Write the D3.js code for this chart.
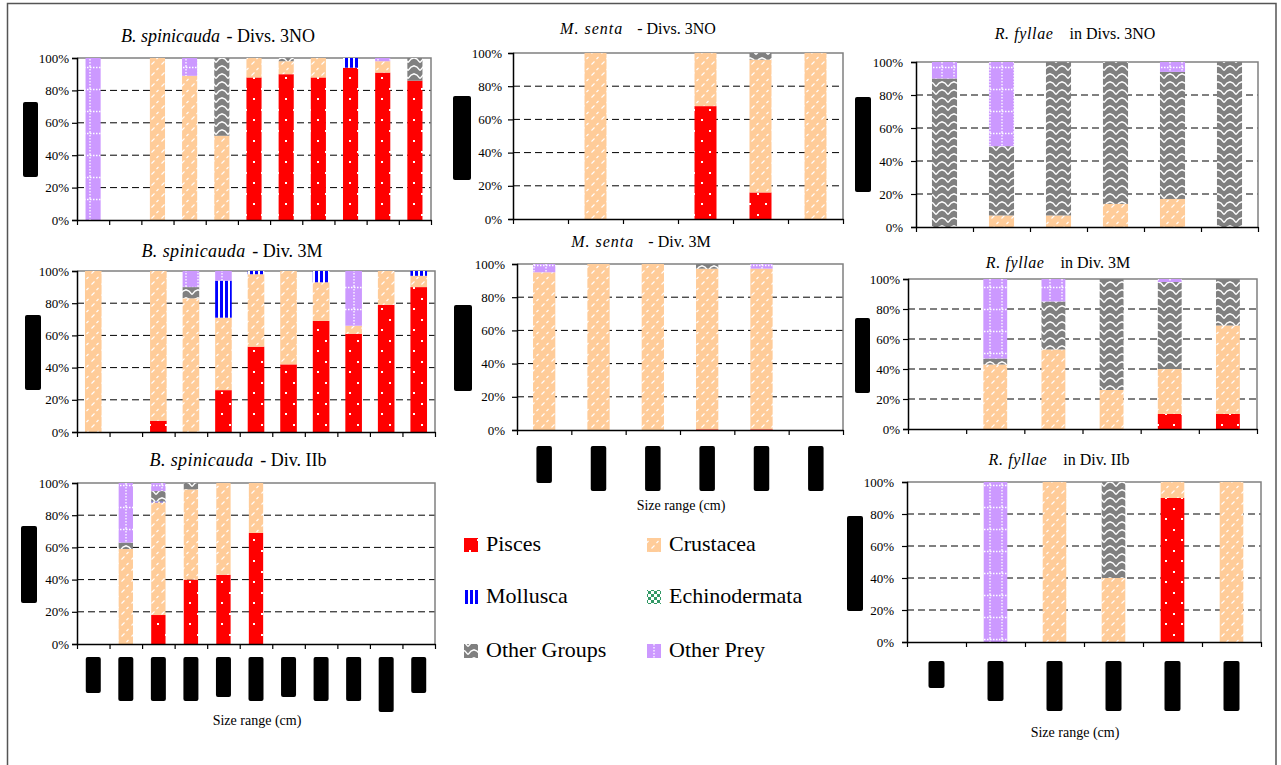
<!DOCTYPE html>
<html><head><meta charset="utf-8">
<script src="https://cdn.jsdelivr.net/npm/d3@7"></script>
<style>body{margin:0;background:#fff}svg{display:block}svg text{font-family:"Liberation Serif","Times New Roman",Tinos,Times,serif}</style>
</head><body><svg id="c" width="1281" height="765"></svg>
<script>
// ---------- DATA ----------
const series = ["Pisces","Crustacea","Mollusca","Echinodermata","Other Groups","Other Prey"];
const yTicks = [0,20,40,60,80,100];
const classes11 = d3.range(1,12).map(i=>"class "+i); // size-range labels are redacted in the source
const classes6 = d3.range(1,7).map(i=>"class "+i);
// each row: [Pisces, Crustacea, Mollusca, Echinodermata, Other Groups, Other Prey] (%)
const bsp3NO = [[0,0,0,0,0,100],[0,0,0,0,0,0],[0,100,0,0,0,0],[0,89,0,0,0,11],[0,52,0,0,48,0],[88,12,0,0,0,0],[90,8,0,0,2,0],[88,12,0,0,0,0],[94,0,6,0,0,0],[91,7,0,0,0,2],[86,0,0,0,14,0]];
const bsp3M = [[0,100,0,0,0,0],[0,0,0,0,0,0],[7,93,0,0,0,0],[0,83,0,0,7,10],[26,45,23,0,0,6],[53,45,2,0,0,0],[42,58,0,0,0,0],[69,24,7,0,0,0],[61,5,0,0,0,34],[79,21,0,0,0,0],[90,7,3,0,0,0]];
const bspIIb = [[0,0,0,0,0,0],[0,59,0,0,4,37],[18,70,0.5,0,6.5,5],[40,56,0,0,4,0],[43,57,0,0,0,0],[69,31,0,0,0,0],[0,0,0,0,0,0],[0,0,0,0,0,0],[0,0,0,0,0,0],[0,0,0,0,0,0],[0,0,0,0,0,0]];
const msen3NO = [[0,0,0,0,0,0],[0,100,0,0,0,0],[0,0,0,0,0,0],[68,32,0,0,0,0],[16,80,0,0,4,0],[0,100,0,0,0,0]];
const msen3M = [[0,95,0,0,0,5],[0,100,0,0,0,0],[0,100,0,0,0,0],[0.4,96.8,0,0,2.8,0],[0.4,96.8,0,0,0,2.8],[0,0,0,0,0,0]];
const rfy3NO = [[0,0,0,0,90,10],[0,7,0,0,42,51],[0,7,0,0,93,0],[0,14,0,0,86,0],[0,17,0,0,77,6],[0,0,0,0,100,0]];
const rfy3M = [[0,0,0,0,0,0],[0,43,0,0,4,53],[0,53,0,0,32,15],[0,26,0,0,74,0],[10,30,0,0,58,2],[10,59,0,0,31,0]];
const rfyIIb = [[0,0,0,0,0,0],[0,0,0,0,0,100],[0,100,0,0,0,0],[0,40,0,0,60,0],[90,10,0,0,0,0],[0,100,0,0,0,0]];

// ---------- LAYOUT ----------
const panels = [
 {data:bsp3NO, cats:classes11, sp:"B. spinicauda", rest:" - Divs. 3NO", x0:77,x1:431,y0:58,y1:220, pad:0.53, tx:218, ty:42, fs:18, ls:0, gap:2, lab:7, yb:[23,102,15,75]},
 {data:bsp3M, cats:classes11, sp:"B. spinicauda", rest:" - Div. 3M", x0:77,x1:435,y0:271,y1:432, pad:0.49, tx:232, ty:257, fs:18, ls:0.4, gap:2, lab:7, yb:[25,315,16,75]},
 {data:bspIIb, cats:classes11, sp:"B. spinicauda", rest:" - Div. IIb", x0:77,x1:435,y0:483,y1:644, pad:0.56, tx:238, ty:466, fs:18, ls:0.4, gap:2, lab:7, yb:[21,526,16,77],
   red:{top:657,w:15,h:[36,44,44,44,40,44,40,44,44,55,36]}, xl:{x:257,y:725}},
 {data:msen3NO, cats:classes6, sp:"M. senta", rest:" - Divs. 3NO", x0:513,x1:843,y0:53,y1:219, pad:0.6, tx:638, ty:34, fs:16, ls:1, gap:10, lab:10, yb:[453,96,18,84]},
 {data:msen3M, cats:classes6, sp:"M. senta", rest:" - Div. 3M", x0:517,x1:843,y0:264,y1:430, pad:0.59, tx:641, ty:247, fs:16, ls:1, gap:10, lab:11, yb:[454,305,18,86],
   red:{top:446,w:15.5,h:[37,45,45,45,45,45]}, xl:{x:681,y:510}},
 {data:rfy3NO, cats:classes6, sp:"R. fyllae", rest:"in Divs. 3NO", x0:916,x1:1258,y0:62,y1:227, pad:0.56, tx:1075, ty:39, fs:16, ls:0.6, gap:16, lab:12, yb:[855,97,16,95]},
 {data:rfy3M, cats:classes6, sp:"R. fyllae", rest:"in Div. 3M", x0:908,x1:1257,y0:279,y1:429, pad:0.59, tx:1058, ty:268, fs:16, ls:0.6, gap:16, lab:7, yb:[855,318,15,75]},
 {data:rfyIIb, cats:classes6, sp:"R. fyllae", rest:"in Div. IIb", x0:907,x1:1261,y0:482,y1:642, pad:0.6, tx:1059, ty:465, fs:16, ls:0.6, gap:16, lab:12, yb:[847,516,16,95],
   red:{top:661,w:16,h:[27,40,50,50,50,50]}, xl:{x:1075,y:737}}
];

const colors = {"Pisces":"#ff0000","Crustacea":"#ffcc99","Mollusca":"#0000ff","Echinodermata":"#339966","Other Groups":"#808080","Other Prey":"#cc99ff"};

const svg = d3.select("#c");
svg.append("rect").attr("width",1281).attr("height",765).attr("fill","#fff");
svg.append("rect").attr("x",7.5).attr("y",3.5).attr("width",1268.5).attr("height",800)
  .attr("fill","none").attr("stroke","#555").attr("stroke-width",1.5);

// ---------- PATTERNS ----------
const defs = svg.append("defs");
function pat(id,w,h,bg,draw){
  const p = defs.append("pattern").attr("id",id).attr("patternUnits","userSpaceOnUse").attr("width",w).attr("height",h);
  p.append("rect").attr("width",w).attr("height",h).attr("fill",bg);
  draw(p);
}
pat("p0",16,21,colors["Pisces"],p=>{
  p.append("rect").attr("x",5).attr("y",4).attr("width",2).attr("height",2).attr("fill","#fff");
  p.append("rect").attr("x",13).attr("y",14).attr("width",2).attr("height",2).attr("fill","#fff");
});
pat("p1",10,11,colors["Crustacea"],p=>{
  p.append("path").attr("d","M1.5,9.5 L4.5,6.5 M6.5,4 L8.5,2").attr("stroke","#fff").attr("stroke-width",1.1).attr("fill","none");
});
pat("p2",5,10,colors["Mollusca"],p=>{
  p.append("rect").attr("x",3).attr("y",0).attr("width",2).attr("height",10).attr("fill","#fff");
});
pat("p3",6,6,colors["Echinodermata"],p=>{
  p.append("rect").attr("x",0).attr("y",0).attr("width",3).attr("height",3).attr("fill","#fff");
  p.append("rect").attr("x",3).attr("y",3).attr("width",3).attr("height",3).attr("fill","#fff");
});
pat("p4",12,8,colors["Other Groups"],p=>{
  p.append("path").attr("d","M0,6.5 L3,3 L6,1.8 L9,3 L12,6.5").attr("stroke","#fff").attr("stroke-width",1.4).attr("fill","none");
});
pat("p5",12,22,colors["Other Prey"],p=>{
  p.append("path").attr("d","M0,1.5 L12,1.5").attr("stroke","#fff").attr("stroke-width",1.3).attr("stroke-dasharray","1.5,1.5");
  p.append("path").attr("d","M6,0 L6,22").attr("stroke","#fff").attr("stroke-width",1.3).attr("stroke-dasharray","1.5,1.5");
});

// ---------- PANELS ----------
panels.forEach(P=>{
  const g = svg.append("g");
  const n = P.cats.length;
  const x = d3.scaleBand().domain(P.cats).range([P.x0,P.x1]).paddingInner(P.pad).paddingOuter(P.pad/2);
  const xb = d3.scaleLinear().domain([0,n]).range([P.x0,P.x1]);
  const y = d3.scaleLinear().domain([0,100]).range([P.y1,P.y0]);

  // title
  const t = g.append("text").attr("x",P.tx).attr("y",P.ty).attr("text-anchor","middle")
    .style("font-size",P.fs+"px").attr("fill","#000");
  t.append("tspan").style("font-style","italic").attr("letter-spacing",P.ls).text(P.sp);
  t.append("tspan").attr("dx",P.gap).text(P.rest);

  // gridlines
  g.selectAll("line.grid").data(yTicks.filter(v=>v>0&&v<100)).join("line")
    .attr("x1",P.x0).attr("x2",P.x1).attr("y1",d=>y(d)).attr("y2",d=>y(d))
    .attr("stroke","#000").attr("stroke-width",1).attr("stroke-dasharray","7,4");

  // plot frame (top/right, grey)
  g.append("path").attr("d",`M${P.x0},${y(100)}H${P.x1}V${y(0)}`).attr("fill","none")
    .attr("stroke","#808080").attr("stroke-width",1.5);

  // stacked bars
  const rows = P.data.map((r,i)=>{const o={cat:P.cats[i]}; series.forEach((s,j)=>o[s]=r[j]); return o;});
  const stack = d3.stack().keys(series)(rows);
  stack.forEach((layer,li)=>{
    g.selectAll(null).data(layer.filter(d=>d[1]-d[0]>0)).join("rect")
      .attr("x",d=>x(d.data.cat)).attr("width",x.bandwidth())
      .attr("y",d=>y(d[1])).attr("height",d=>Math.max(0.6,y(d[0])-y(d[1])))
      .attr("fill",`url(#p${li})`);
  });

  // y axis
  const ya = g.append("g").attr("transform",`translate(${P.x0},0)`)
    .call(d3.axisLeft(y).tickValues(yTicks).tickFormat(d=>d+"%").tickSize(5).tickPadding(P.lab-4));
  ya.attr("font-family",null).attr("font-size",null);
  ya.select(".domain").attr("stroke","#000").attr("stroke-width",1.5);
  ya.selectAll(".tick line").attr("stroke","#000").attr("stroke-width",1.2);
  ya.selectAll(".tick text").style("font-size","13px").attr("fill","#000");

  // x axis (ticks at class boundaries)
  const xa = g.append("g").attr("transform",`translate(0,${P.y1})`)
    .call(d3.axisBottom(xb).tickValues(d3.range(n+1)).tickFormat("").tickSize(5).tickSizeOuter(0));
  xa.select(".domain").attr("stroke","#000").attr("stroke-width",1.5);
  xa.selectAll(".tick line").attr("stroke","#000").attr("stroke-width",1.2);

  // redacted y-axis title
  g.append("rect").attr("x",P.yb[0]).attr("y",P.yb[1]).attr("width",P.yb[2]).attr("height",P.yb[3])
    .attr("rx",2).attr("fill","#000");

  // redacted size-range labels
  if(P.red){
    g.selectAll(null).data(P.cats).join("rect")
      .attr("x",d=>x(d)+x.bandwidth()/2-P.red.w/2).attr("y",P.red.top)
      .attr("width",P.red.w).attr("height",(d,i)=>P.red.h[i]).attr("rx",2).attr("fill","#000");
  }
  if(P.xl){
    g.append("text").attr("x",P.xl.x).attr("y",P.xl.y).attr("text-anchor","middle")
      .style("font-size","14px").attr("fill","#000").text("Size range (cm)");
  }
});

// ---------- LEGEND ----------
const lg = svg.append("g");
const legCols = [464, 647];
const legRows = [551, 603, 657];
series.forEach((s,i)=>{
  const cx = legCols[i%2], by = legRows[Math.floor(i/2)];
  lg.append("rect").attr("x",cx).attr("y",by-13).attr("width",14).attr("height",14).attr("fill",`url(#p${i})`);
  lg.append("text").attr("x",cx+22).attr("y",by).style("font-size","22px")
    .attr("fill","#000").text(s);
});
</script></body></html>
